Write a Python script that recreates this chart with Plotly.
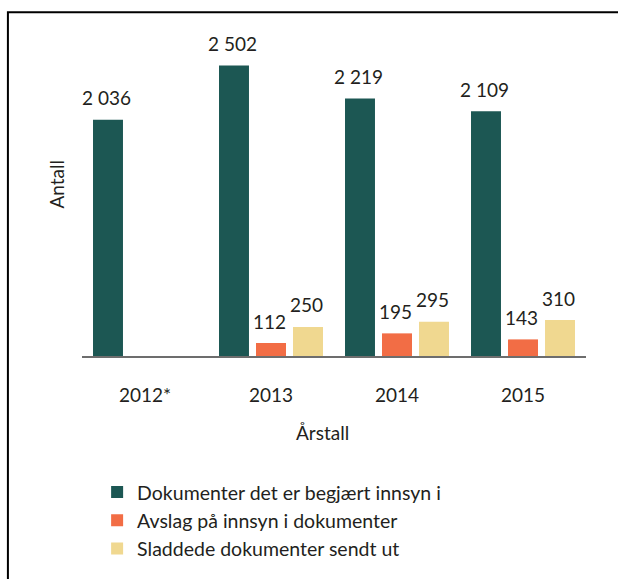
import plotly.graph_objects as go

years = ["2012*", "2013", "2014", "2015"]
series_names = ["Dokumenter det er begjært innsyn i",
                "Avslag på innsyn i dokumenter",
                "Sladdede dokumenter sendt ut"]
begjaert = [2036, 2502, 2219, 2109]
avslag = [None, 112, 195, 143]
sladdet = [None, 250, 295, 310]
colors = ["#1c5753", "#f26d45", "#f0d890"]

TXT = "#231f20"
FONT = "Lato"

fig = go.Figure()
all_series = [begjaert, avslag, sladdet]
for name, vals, col in zip(series_names, all_series, colors):
    fig.add_trace(go.Bar(x=years, y=vals, name=name, marker_color=col,
                         marker_line_width=0))

# value labels (x given as category index)
offsets = [-37, 0, 37]
for vals, dx in zip(all_series, offsets):
    for idx, v in enumerate(vals):
        if v is None:
            continue
        fig.add_annotation(x=idx, y=v, xref="x", yref="y", xshift=dx - 2, yshift=22,
                           yanchor="middle", showarrow=False,
                           text=f"{v:,}".replace(",", " "),
                           font=dict(size=19, color=TXT, family=FONT))

fig.add_annotation(xref="paper", yref="paper", x=-0.05, y=0.53, text="Antall",
                   textangle=-90, showarrow=False, xanchor="center",
                   font=dict(size=19, color=TXT, family=FONT))
fig.add_annotation(xref="paper", yref="paper", x=0.478, y=-0.235, text="Årstall",
                   showarrow=False, yanchor="middle", xanchor="center",
                   font=dict(size=19, color=TXT, family=FONT))

# frame
fig.add_shape(type="rect", xref="paper", yref="paper",
              x0=-0.147, x1=1.3, y0=-1.5, y1=1.058,
              line=dict(color="black", width=2))

fig.update_layout(
    width=618, height=579,
    margin=dict(l=82, r=32, t=31, b=222),
    paper_bgcolor="white", plot_bgcolor="white",
    barmode="group", bargap=0.119, bargroupgap=0.19,
    font=dict(family=FONT, size=19, color=TXT),
    showlegend=True,
    legend=dict(x=0.03, y=-0.355, xanchor="left", yanchor="top",
                font=dict(size=19.5, color=TXT, family=FONT),
                traceorder="normal", tracegroupgap=8.5,
                bgcolor="rgba(0,0,0,0)"),
    xaxis=dict(type="category", range=[-0.5, 3.5], showline=True,
               linecolor="#6d6d6d", linewidth=2,
               ticks="", ticklabelstandoff=21, showgrid=False,
               tickfont=dict(size=19, color=TXT, family=FONT)),
    yaxis=dict(range=[0, 2800], showticklabels=False, showgrid=False,
               zeroline=False, showline=False, ticks=""),
)
for i, tr in enumerate(fig.data):
    tr.legendgroup = f"g{i}"

fig.write_html("out.html", config={"displayModeBar": False},
               post_script="document.body.style.margin='0';document.body.style.overflow='hidden';")
